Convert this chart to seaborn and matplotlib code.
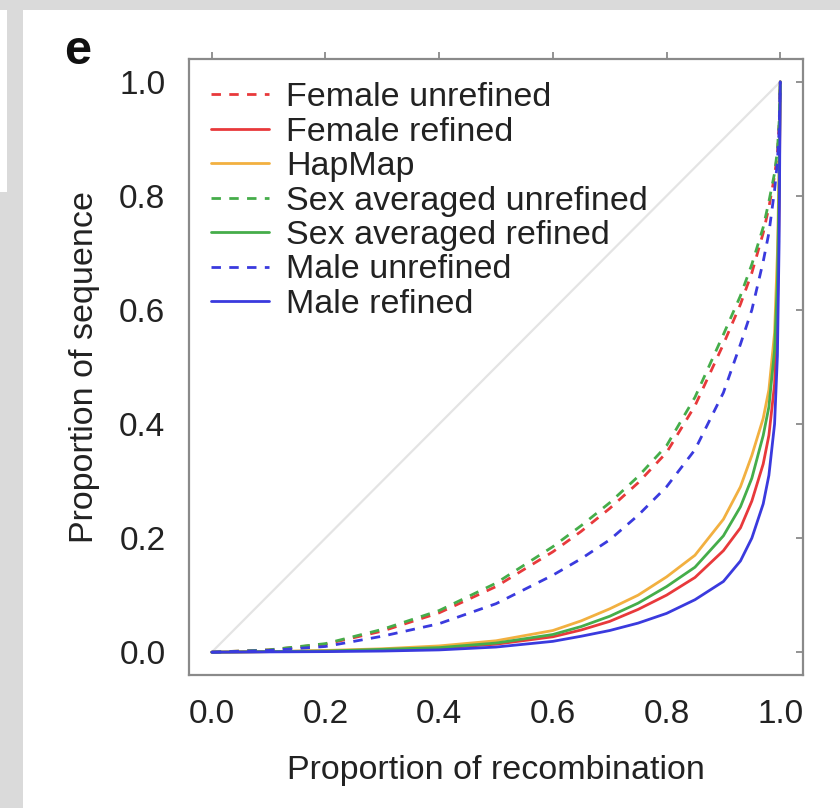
import numpy as np
import pandas as pd
import matplotlib
matplotlib.use("Agg")
import matplotlib.pyplot as plt
import seaborn as sns
from matplotlib.patches import Rectangle

sns.set_theme(style="white")
plt.rcParams['font.family'] = ['Liberation Sans', 'DejaVu Sans']

# ---- data ----
recomb = [0, 0.1, 0.2, 0.3, 0.4, 0.5, 0.6, 0.65, 0.7, 0.75, 0.8, 0.85, 0.9,
          0.93, 0.95, 0.97, 0.98, 0.99, 0.995, 0.998, 1.0]
female_unrefined = [0, .004, .014, .037, .069, .115, .176, .212, .252, .297, .350,
                    .432, .540, .610, .665, .735, .78, .835, .875, .925, 1.0]
female_refined = [0, .001, .002, .004, .007, .014, .027, .039, .054, .075, .100,
                  .131, .178, .218, .265, .33, .38, .47, .60, .78, 1.0]
hapmap = [0, .001, .003, .006, .011, .020, .038, .055, .076, .100, .132,
          .170, .233, .290, .345, .41, .46, .56, .70, .85, 1.0]
sexavg_unrefined = [0, .004, .015, .040, .073, .121, .185, .222, .262, .308, .362,
                    .447, .557, .625, .68, .745, .79, .84, .88, .93, 1.0]
sexavg_refined = [0, .001, .002, .005, .008, .016, .031, .045, .063, .086, .115,
                  .149, .204, .255, .305, .38, .43, .53, .65, .82, 1.0]
male_unrefined = [0, .003, .010, .028, .050, .085, .135, .164, .197, .240, .29,
                  .355, .455, .54, .60, .685, .735, .81, .86, .915, 1.0]
male_refined = [0, .0005, .001, .002, .004, .009, .019, .028, .038, .051, .068,
                .092, .124, .160, .200, .26, .31, .40, .52, .72, 1.0]

series_names = ["Female unrefined", "Female refined", "HapMap",
                "Sex averaged unrefined", "Sex averaged refined",
                "Male unrefined", "Male refined"]
series_values = [female_unrefined, female_refined, hapmap, sexavg_unrefined,
                 sexavg_refined, male_unrefined, male_refined]
series_colors = ["#e8393b", "#e8393b", "#f2b040", "#45ad4a", "#45ad4a",
                 "#3a3ade", "#3a3ade"]
series_dashed = [True, False, False, True, False, True, False]

xticks = [0.0, 0.2, 0.4, 0.6, 0.8, 1.0]
yticks = [0.0, 0.2, 0.4, 0.6, 0.8, 1.0]

# ---- figure ----
fig = plt.figure(figsize=(8.4, 8.08), dpi=100)
W, H = 840, 808
fig.patch.set_facecolor("white")
gray = "#dadada"
# background strips
fig.patches.append(Rectangle((0, 1 - 10 / H), 1, 10 / H, transform=fig.transFigure,
                             facecolor=gray, edgecolor="none", zorder=0))
fig.patches.append(Rectangle((7 / W, 0), 16 / W, 1, transform=fig.transFigure,
                             facecolor=gray, edgecolor="none", zorder=0))
fig.patches.append(Rectangle((0, 0), 7 / W, 1 - 192 / H, transform=fig.transFigure,
                             facecolor=gray, edgecolor="none", zorder=0))

ax = fig.add_axes([189 / W, 1 - 675 / H, (803 - 189) / W, (675 - 59) / H])
ax.set_facecolor("white")

# diagonal reference
sns.lineplot(x=[0, 1], y=[0, 1], color="#e4e4e4", linewidth=1.6, ax=ax, zorder=1)

handles = []
for name, vals, col, dashed in zip(series_names, series_values, series_colors, series_dashed):
    df = pd.DataFrame({"x": recomb, "y": vals})
    sns.lineplot(data=df, x="x", y="y", color=col, linewidth=2.0, ax=ax, zorder=2)
    ln = ax.lines[-1]
    if dashed:
        ln.set_dashes((3.4, 3.0))
    ln.set_label(name)
    handles.append(ln)

ax.set_xlim(-0.04, 1.04)
ax.set_ylim(-0.04, 1.04)
ax.set_xticks(xticks)
ax.set_yticks(yticks)
ax.set_xticklabels([f"{t:.1f}" for t in xticks])
ax.set_yticklabels([f"{t:.1f}" for t in yticks])

for sp in ax.spines.values():
    sp.set_visible(True)
    sp.set_color("#8a8a8a")
    sp.set_linewidth(1.6)

ax.tick_params(axis="both", which="major", direction="out", length=8, width=1.3,
               color="#8a8a8a", labelsize=24, labelcolor="#222222")
ax.tick_params(axis="x", pad=9)
ax.tick_params(axis="y", pad=9)
ax.tick_params(top=True, right=True, labeltop=False, labelright=False)
for t in ax.xaxis.get_major_ticks():
    t.tick2line.set_markersize(5)
for t in ax.yaxis.get_major_ticks():
    t.tick2line.set_markersize(5)
    t.tick2line.set_marker(matplotlib.lines.TICKLEFT)

ax.set_xlabel("Proportion of recombination", fontsize=24.5, color="#222222", labelpad=18)
ax.set_ylabel("Proportion of sequence", fontsize=24.5, color="#222222", labelpad=14)

leg = ax.legend(handles=handles, labels=series_names, loc="upper left",
                bbox_to_anchor=(0.036, 0.962), frameon=False, fontsize=24.5,
                handlelength=1.7, handletextpad=0.5, labelspacing=0.1,
                borderpad=0, borderaxespad=0)
for txt in leg.get_texts():
    txt.set_color("#222222")

fig.text(78 / W, 1 - 52 / H, "e", ha="center", va="center", fontsize=35,
         fontweight="bold", color="#111111")

fig.savefig("out.png", dpi=100, facecolor=fig.get_facecolor())
